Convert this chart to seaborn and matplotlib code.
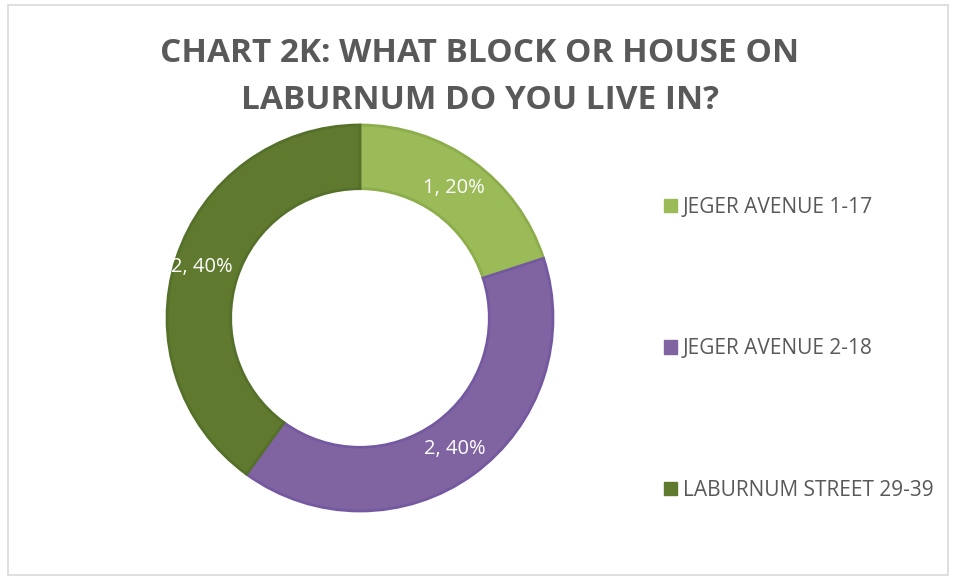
import matplotlib
matplotlib.use("Agg")
import matplotlib.pyplot as plt
from matplotlib.patches import Rectangle, Patch
import seaborn as sns
import numpy as np

categories = ["JEGER AVENUE 1-17", "JEGER AVENUE 2-18", "LABURNUM STREET 29-39"]
counts = [1, 2, 2]
percents = [20, 40, 40]
title = "CHART 2K: WHAT BLOCK OR HOUSE ON\nLABURNUM DO YOU LIVE IN?"

sns.set_theme(style="white")
plt.rcParams['font.family'] = ['Open Sans', 'DejaVu Sans']

colors = ["#9BBB59", "#8064A2", "#5F7A2E"]
edges = ["#8DAD4C", "#7459A0", "#55702A"]

fig = plt.figure(figsize=(9.55, 5.78), dpi=100)
fig.patch.set_facecolor("white")
fig.patches.append(Rectangle((8/955, 3/578), 940/955, 570/578, transform=fig.transFigure,
                             fill=False, edgecolor="#D9D9D9", linewidth=1.2))

cx, cy, R = 360, 318, 193
ax = fig.add_axes([(cx - R)/955, (578 - cy - R)/578, 2*R/955, 2*R/578])
wedges, _ = ax.pie(counts, colors=colors, startangle=90, counterclock=False,
                   radius=1.0, wedgeprops=dict(width=0.33, linewidth=2))
for w, e in zip(wedges, edges):
    w.set_edgecolor(e)
ax.set_xlim(-1, 1)
ax.set_ylim(-1, 1)
ax.set_aspect("equal")
ax.axis("off")

for w, c, p, rr in zip(wedges, counts, percents, [0.83, 0.84, 0.86]):
    ang = np.deg2rad((w.theta1 + w.theta2) / 2)
    ax.text(rr*np.cos(ang), rr*np.sin(ang), f"{c}, {p}%", ha="center", va="center",
            color="white", fontsize=14.5)

fig.text(0.5025, 1 - 77/578, title, ha="center", va="center", fontsize=24, fontweight="bold",
         color="#595959", linespacing=1.58)

handles = [Patch(facecolor=c, edgecolor=c) for c in colors]
leg = fig.legend(handles, categories, loc="upper left", bbox_to_anchor=(664/955, 1 - 197/578),
                 frameon=False, fontsize=15, handlelength=0.6, handleheight=0.6,
                 handletextpad=0.3, labelspacing=5.78, borderpad=0, borderaxespad=0)
for t in leg.get_texts():
    t.set_color("#595959")

fig.savefig("out.png", dpi=100)
